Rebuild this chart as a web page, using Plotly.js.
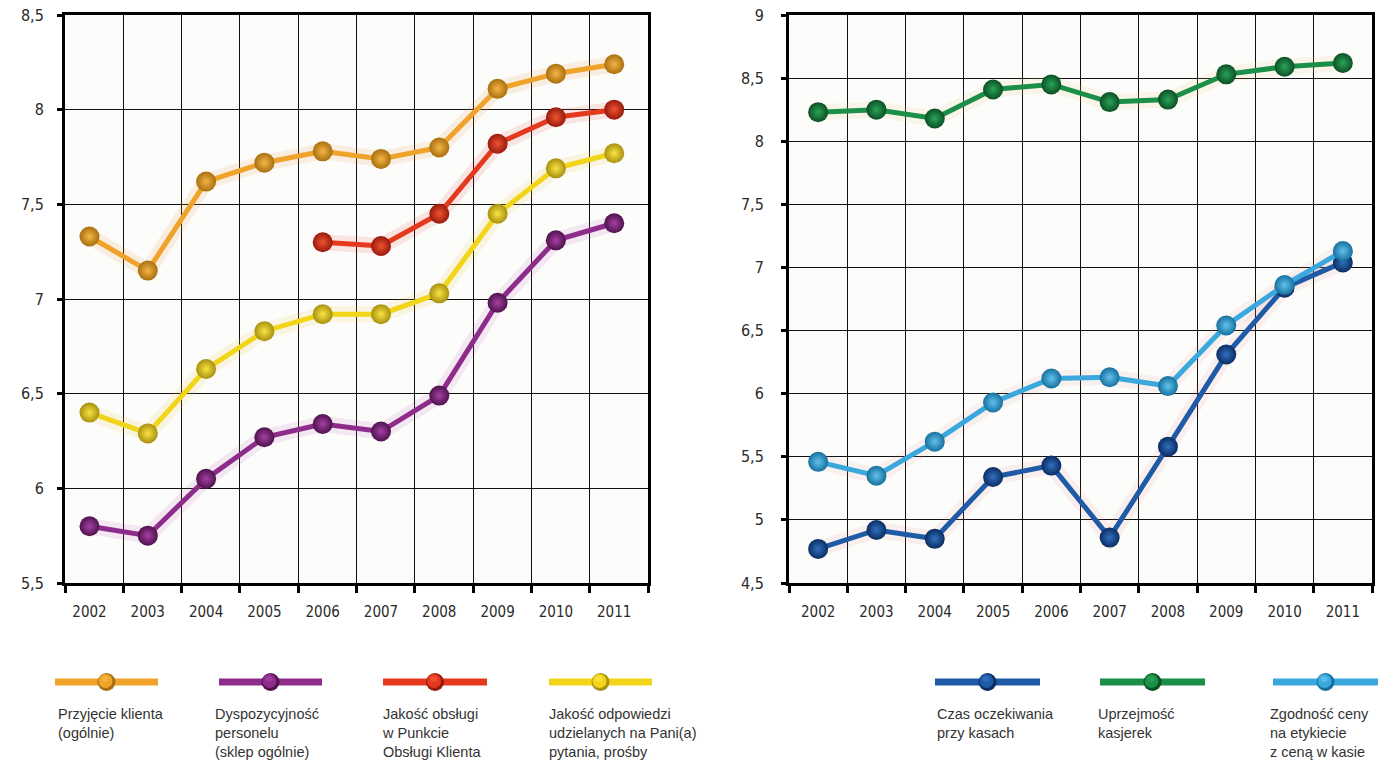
<!DOCTYPE html>
<html><head><meta charset="utf-8">
<script src="https://cdn.plot.ly/plotly-3.0.1.min.js"></script>
<style>html,body{margin:0;padding:0;background:#fff}#chart{width:1395px;height:760px}</style>
</head><body><div id="chart"></div>
<script>
const years = ['2002','2003','2004','2005','2006','2007','2008','2009','2010','2011'];
// Left chart
const przyjecie = [7.33, 7.15, 7.62, 7.72, 7.78, 7.74, 7.80, 8.11, 8.19, 8.24];
const dyspozycyjnosc = [5.80, 5.75, 6.05, 6.27, 6.34, 6.30, 6.49, 6.98, 7.31, 7.40];
const jakoscPOK = [null, null, null, null, 7.30, 7.28, 7.45, 7.82, 7.96, 8.00];
const jakoscOdp = [6.40, 6.29, 6.63, 6.83, 6.92, 6.92, 7.03, 7.45, 7.69, 7.77];
// Right chart
const czas = [4.77, 4.92, 4.85, 5.34, 5.43, 4.86, 5.58, 6.31, 6.84, 7.04];
const uprzejmosc = [8.23, 8.25, 8.18, 8.41, 8.45, 8.31, 8.33, 8.53, 8.59, 8.62];
const zgodnosc = [5.46, 5.35, 5.62, 5.93, 6.12, 6.13, 6.06, 6.54, 6.86, 7.13];

const leftNames = ['Przyjęcie klienta<br>(ogólnie)', 'Dyspozycyjność<br>personelu<br>(sklep ogólnie)', 'Jakość obsługi<br>w Punkcie<br>Obsługi Klienta', 'Jakość odpowiedzi<br>udzielanych na Pani(a)<br>pytania, prośby'];
const rightNames = ['Czas oczekiwania<br>przy kasach', 'Uprzejmość<br>kasjerek', 'Zgodność ceny<br>na etykiecie<br>z ceną w kasie'];

const styles = {
  orange: {line:'#EFA32B', edge:'#A8700F', center:'#F6B446', glow:'rgba(230,150,60,0.14)'},
  purple: {line:'#8E2C8C', edge:'#4E124C', center:'#A640A4', glow:'rgba(180,80,170,0.12)'},
  red:    {line:'#E5391E', edge:'#981A0C', center:'#F05232', glow:'rgba(220,60,40,0.12)'},
  yellow: {line:'#F2D418', edge:'#A89010', center:'#FAE440', glow:'rgba(230,200,60,0.14)'},
  dblue:  {line:'#1E5AA5', edge:'#0B2D62', center:'#3070C0', glow:'rgba(220,120,120,0.10)'},
  green:  {line:'#1B8E47', edge:'#0B4F24', center:'#2AA458', glow:'rgba(230,200,120,0.14)'},
  lblue:  {line:'#3AA8DC', edge:'#16709E', center:'#62C2EC', glow:'rgba(220,140,140,0.10)'}
};

const idx = years.map((_, i) => i);
function series(y, st, xa, ya, name) {
  return {
    x: idx, y: y, xaxis: xa, yaxis: ya, name: name, type: 'scatter', mode: 'lines+markers',
    connectgaps: false, showlegend: false, hoverinfo: 'y',
    line: {color: st.line, width: 5},
    marker: {size: 20, color: st.edge, gradient: {type: 'radial', color: st.center}, line: {width: 0}}
  };
}
function shadow(y, st, xa, ya) {
  return {
    x: idx, y: y, xaxis: xa, yaxis: ya, type: 'scatter', mode: 'lines', showlegend: false, hoverinfo: 'skip',
    line: {color: st.glow, width: 16}
  };
}
function labelCarrier(y, xa, ya) {
  return {x: idx, y: y, xaxis: xa, yaxis: ya, type: 'scatter', mode: 'markers', showlegend: false,
    hoverinfo: 'skip', marker: {opacity: 0, size: 1}};
}

const data = [
  shadow(przyjecie, styles.orange,'x','y'), shadow(dyspozycyjnosc, styles.purple,'x','y'),
  shadow(jakoscPOK, styles.red,'x','y'), shadow(jakoscOdp, styles.yellow,'x','y'),
  shadow(czas, styles.dblue,'x2','y2'), shadow(uprzejmosc, styles.green,'x2','y2'), shadow(zgodnosc, styles.lblue,'x2','y2'),
  series(przyjecie, styles.orange, 'x', 'y', 'Przyjęcie klienta'),
  series(dyspozycyjnosc, styles.purple, 'x', 'y', 'Dyspozycyjność personelu'),
  series(jakoscPOK, styles.red, 'x', 'y', 'Jakość obsługi w POK'),
  series(jakoscOdp, styles.yellow, 'x', 'y', 'Jakość odpowiedzi'),
  series(czas, styles.dblue, 'x2', 'y2', 'Czas oczekiwania'),
  series(uprzejmosc, styles.green, 'x2', 'y2', 'Uprzejmość kasjerek'),
  series(zgodnosc, styles.lblue, 'x2', 'y2', 'Zgodność ceny'),
  labelCarrier(przyjecie, 'x3', 'y'),
  labelCarrier(uprzejmosc, 'x4', 'y2')
];

const tickFont = {family: '"Liberation Sans Narrow", "DejaVu Sans Condensed", "Arial Narrow", sans-serif', size: 16, color: '#2a2a2a'};
const xTickFont = {family: '"Liberation Sans Narrow", "DejaVu Sans Condensed", "Arial Narrow", sans-serif', size: 15, color: '#2a2a2a'};
const W = 1395, H = 760;
const leftDom = [65/W, 648/W], rightDom = [789/W, 1372/W];
const yDom = [1 - 583/H, 1 - 15/H];

function gridX(dom, r0, anchor) {
  return {domain: dom, range: [r0, r0 + 10], tick0: r0, dtick: 1, tickmode: 'linear', anchor: anchor,
    showgrid: true, gridcolor: '#111', gridwidth: 1, zeroline: false, showticklabels: false,
    ticks: 'outside', ticklen: 7, tickwidth: 3, tickcolor: '#000',
    showline: true, linecolor: '#000', linewidth: 3, mirror: true, fixedrange: true};
}
function labelX(over, dom, r0, anchor) {
  return {overlaying: over, domain: dom, anchor: anchor, range: [r0, r0 + 10], tickmode: 'array', tickvals: idx, ticktext: years,
    showgrid: false, zeroline: false, ticks: '', showline: false, tickfont: xTickFont, ticklabelstandoff: 18, fixedrange: true};
}
function axY(range, anchor, standoff) {
  return {domain: yDom, range: range, dtick: 0.5, tick0: 0, anchor: anchor,
    showgrid: true, gridcolor: '#111', gridwidth: 1, zeroline: false,
    ticks: 'outside', ticklen: 5, tickwidth: 3, tickcolor: '#000',
    showline: true, linecolor: '#000', linewidth: 3, mirror: true,
    tickfont: tickFont, ticklabelstandoff: standoff, fixedrange: true};
}

const shapes = [], annotations = [];
function legendItem(x0, x1, st, text, tx) {
  const yl = 1 - 682/H, xm = (x0 + x1) / 2;
  shapes.push({type: 'line', xref: 'paper', yref: 'paper', x0: x0/W, x1: x1/W, y0: yl, y1: yl,
    line: {color: st.line, width: 7}});
  shapes.push({type: 'circle', xref: 'paper', yref: 'paper', xsizemode: 'pixel', ysizemode: 'pixel',
    xanchor: xm/W, yanchor: yl, x0: -9, x1: 9, y0: -9, y1: 9, fillcolor: st.edge, line: {width: 0}});
  shapes.push({type: 'circle', xref: 'paper', yref: 'paper', xsizemode: 'pixel', ysizemode: 'pixel',
    xanchor: xm/W, yanchor: yl, x0: -8, x1: 6, y0: -6, y1: 8, fillcolor: st.line, line: {width: 0}});
  shapes.push({type: 'circle', xref: 'paper', yref: 'paper', xsizemode: 'pixel', ysizemode: 'pixel',
    xanchor: xm/W, yanchor: yl, x0: -5, x1: 2, y0: 0, y1: 6, fillcolor: st.center, line: {width: 0}, opacity: 0.8});
  annotations.push({xref: 'paper', yref: 'paper', x: tx/W, y: 1 - 704/H, xanchor: 'left', yanchor: 'top',
    align: 'left', showarrow: false, text: text,
    font: {family: '"Liberation Sans", Arial, sans-serif', size: 14.5, color: '#333'}});
}
legendItem(55, 158, styles.orange, leftNames[0], 56);
legendItem(219, 322, styles.purple, leftNames[1], 213);
legendItem(383, 487, styles.red, leftNames[2], 380);
legendItem(549, 652, styles.yellow, leftNames[3], 547);
legendItem(935, 1040, styles.dblue, rightNames[0], 935);
legendItem(1100, 1205, styles.green, rightNames[1], 1096);
legendItem(1273, 1378, styles.lblue, rightNames[2], 1268);

const layout = {
  width: W, height: H, margin: {l: 0, r: 0, t: 0, b: 0},
  paper_bgcolor: '#ffffff', plot_bgcolor: '#fcfcfb', separators: ',.', showlegend: false,
  xaxis: gridX(leftDom, -0.42, 'y'),
  xaxis2: gridX(rightDom, -0.5, 'y2'),
  xaxis3: labelX('x', leftDom, -0.42, 'y'),
  xaxis4: labelX('x2', rightDom, -0.5, 'y2'),
  yaxis: axY([5.5, 8.5], 'x', 10),
  yaxis2: axY([4.5, 9], 'x2', 14),
  shapes: shapes, annotations: annotations
};

Plotly.newPlot('chart', data, layout, {displayModeBar: false, staticPlot: true});
</script></body></html>
